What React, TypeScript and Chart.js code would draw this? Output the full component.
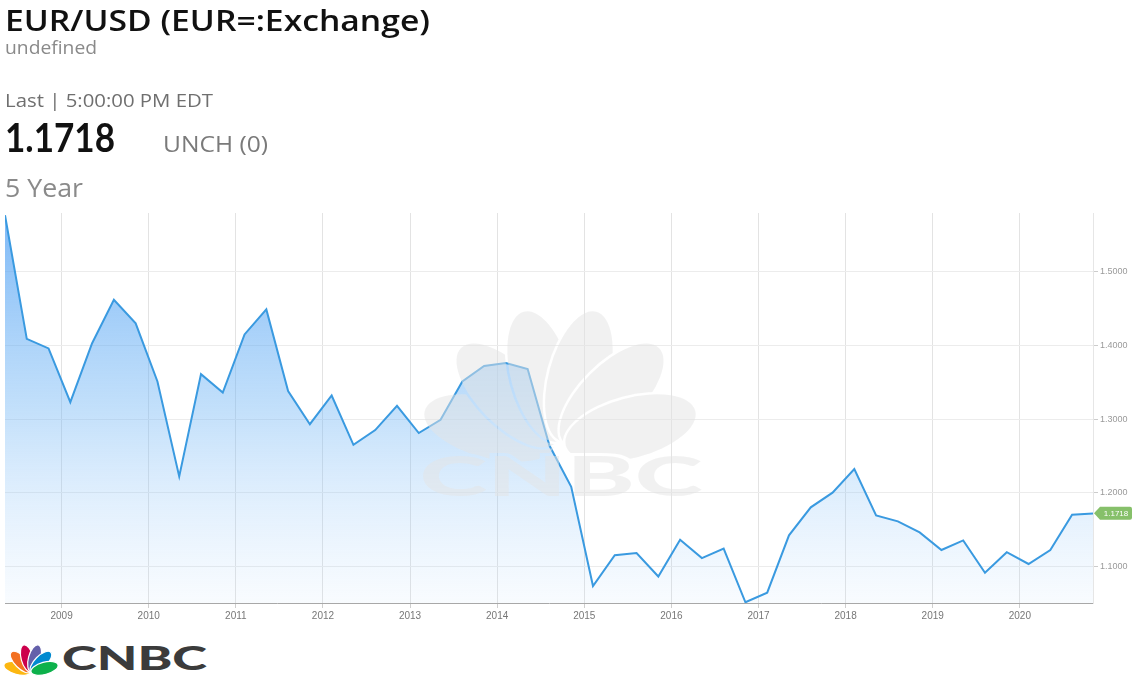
import React, { useEffect, useLayoutEffect, useRef } from 'react';
import { Chart, registerables } from 'chart.js';

Chart.register(...registerables);

// ---- data ----
const dates: number[] = [
  2008.35, 2008.6, 2008.85, 2009.1, 2009.35, 2009.6, 2009.85, 2010.1, 2010.35, 2010.6,
  2010.85, 2011.1, 2011.35, 2011.6, 2011.85, 2012.1, 2012.35, 2012.6, 2012.85, 2013.1,
  2013.35, 2013.6, 2013.85, 2014.1, 2014.35, 2014.6, 2014.85, 2015.1, 2015.35, 2015.6,
  2015.85, 2016.1, 2016.35, 2016.6, 2016.85, 2017.1, 2017.35, 2017.6, 2017.85, 2018.1,
  2018.35, 2018.6, 2018.85, 2019.1, 2019.35, 2019.6, 2019.85, 2020.1, 2020.35, 2020.6,
  2020.84,
];
const rates: number[] = [
  1.577, 1.409, 1.396, 1.323, 1.403, 1.462, 1.430, 1.351, 1.222, 1.361,
  1.336, 1.415, 1.449, 1.338, 1.293, 1.332, 1.265, 1.285, 1.318, 1.281,
  1.299, 1.351, 1.372, 1.376, 1.368, 1.264, 1.208, 1.073, 1.115, 1.118,
  1.086, 1.136, 1.111, 1.124, 1.051, 1.064, 1.142, 1.180, 1.200, 1.232,
  1.169, 1.161, 1.146, 1.122, 1.135, 1.091, 1.119, 1.103, 1.122, 1.170,
  1.1718,
];
const yearTicks: number[] = [2009, 2010, 2011, 2012, 2013, 2014, 2015, 2016, 2017, 2018, 2019, 2020];
const rateTicks: number[] = [1.1, 1.2, 1.3, 1.4, 1.5];
const lastValue = 1.1718;
const lastLabel = '1.1718';

const feathers = [
  { angle: -75, color: '#fcb711' },
  { angle: -45, color: '#f37021' },
  { angle: -15, color: '#cc004c' },
  { angle: 15, color: '#6460aa' },
  { angle: 45, color: '#0089d0' },
  { angle: 75, color: '#0db14b' },
];

const watermarkPlugin = {
  id: 'watermark',
  afterDatasetsDraw(chart: any) {
    const { ctx, width, height } = chart;
    const off = document.createElement('canvas');
    off.width = width;
    off.height = height;
    const o = off.getContext('2d')!;
    const bx = 560, by = 447, r = 73, rx = 30, ry = 67;
    const gray = '#e4e4e4';
    feathers.forEach((f) => {
      const a = (f.angle * Math.PI) / 180;
      const cx = bx + r * Math.sin(a);
      const cy = by - r * Math.cos(a);
      o.save();
      o.globalCompositeOperation = 'destination-out';
      o.beginPath();
      o.ellipse(cx, cy, rx + 2.5, ry + 2.5, a, 0, Math.PI * 2);
      o.fill();
      o.restore();
      o.fillStyle = gray;
      o.beginPath();
      o.ellipse(cx, cy, rx, ry, a, 0, Math.PI * 2);
      o.fill();
    });
    const font = '900 56px Lato, "DejaVu Sans", sans-serif';
    o.font = font;
    const w = o.measureText('CNBC').width;
    const sx = 283 / w;
    o.save();
    o.translate(561, 496);
    o.scale(sx, 1);
    o.textAlign = 'center';
    o.textBaseline = 'alphabetic';
    o.globalCompositeOperation = 'destination-out';
    o.lineWidth = 6;
    o.strokeText('CNBC', 0, 0);
    o.globalCompositeOperation = 'source-over';
    o.fillStyle = gray;
    o.fillText('CNBC', 0, 0);
    o.restore();
    ctx.save();
    ctx.globalAlpha = 0.5;
    ctx.drawImage(off, 0, 0);
    ctx.restore();
  },
};

const badgePlugin = {
  id: 'badge',
  afterDraw(chart: any) {
    const { ctx, chartArea, scales } = chart;
    const y = scales.y.getPixelForValue(lastValue);
    const x = chartArea.right + 1;
    const h = 13;
    ctx.save();
    ctx.fillStyle = '#86c06a';
    ctx.beginPath();
    ctx.moveTo(x, y);
    ctx.lineTo(x + 6, y - h / 2);
    ctx.lineTo(x + 36, y - h / 2);
    ctx.quadraticCurveTo(x + 38, y - h / 2, x + 38, y - h / 2 + 2);
    ctx.lineTo(x + 38, y + h / 2 - 2);
    ctx.quadraticCurveTo(x + 38, y + h / 2, x + 36, y + h / 2);
    ctx.lineTo(x + 6, y + h / 2);
    ctx.closePath();
    ctx.fill();
    ctx.fillStyle = '#ffffff';
    ctx.font = '8px "Liberation Sans", Arial, sans-serif';
    ctx.textAlign = 'center';
    ctx.textBaseline = 'middle';
    ctx.fillText(lastLabel, x + 22, y + 0.5);
    ctx.restore();
  },
};

function FitText(props: { text: string; left: number; top: number; width: number; style: React.CSSProperties }) {
  const ref = useRef<HTMLSpanElement | null>(null);
  useLayoutEffect(() => {
    const el = ref.current;
    if (!el) return;
    el.style.transform = 'none';
    const w = el.getBoundingClientRect().width;
    if (w > 0) el.style.transform = `scaleX(${props.width / w})`;
  }, [props.text, props.width]);
  return (
    <span
      ref={ref}
      style={{
        position: 'absolute',
        left: props.left,
        top: props.top,
        whiteSpace: 'nowrap',
        display: 'inline-block',
        transformOrigin: '0 0',
        ...props.style,
      }}
    >
      {props.text}
    </span>
  );
}

function Logo() {
  const bx = 31, by = 672, r = 14, rx = 6.2, ry = 14;
  return (
    <svg width={220} height={47} viewBox="0 630 220 47" style={{ position: 'absolute', left: 0, top: 630 }}>
      {feathers.map((f, i) => {
        const a = (f.angle * Math.PI) / 180;
        const cx = bx + r * Math.sin(a);
        const cy = by - r * Math.cos(a);
        return (
          <ellipse
            key={i}
            cx={cx}
            cy={cy}
            rx={rx}
            ry={ry}
            fill={f.color}
            stroke="#ffffff"
            strokeWidth={1.2}
            transform={`rotate(${f.angle} ${cx} ${cy})`}
          />
        );
      })}
      <text
        x={62}
        y={670}
        fontFamily="Lato, 'DejaVu Sans', sans-serif"
        fontWeight={900}
        fontSize={33}
        fill="#3b3b3b"
        textLength={145}
        lengthAdjust="spacingAndGlyphs"
      >
        CNBC
      </text>
    </svg>
  );
}

export default function App() {
  const canvasRef = useRef<HTMLCanvasElement | null>(null);

  useEffect(() => {
    const canvas = canvasRef.current!;
    const chart = new Chart(canvas, {
      type: 'line',
      data: {
        datasets: [
          {
            data: dates.map((d, i) => ({ x: d, y: rates[i] })),
            borderColor: '#3a9ae0',
            borderWidth: 2,
            pointRadius: 0,
            tension: 0,
            fill: 'start',
            backgroundColor: (c: any) => {
              const { chart: ch } = c;
              const area = ch.chartArea;
              if (!area) return 'rgba(120,180,245,0.5)';
              const g = ch.ctx.createLinearGradient(0, area.top, 0, area.bottom);
              g.addColorStop(0, 'rgba(75,157,243,0.72)');
              g.addColorStop(0.5, 'rgba(110,180,245,0.42)');
              g.addColorStop(1, 'rgba(170,210,250,0.08)');
              return g;
            },
          },
        ],
      },
      options: {
        responsive: false,
        animation: false,
        layout: { padding: { top: 213, left: 5, right: 0, bottom: 0 } },
        plugins: { legend: { display: false }, tooltip: { enabled: false } },
        scales: {
          x: {
            type: 'linear',
            min: dates[0],
            max: dates[dates.length - 1],
            afterBuildTicks: (axis: any) => {
              axis.ticks = yearTicks.map((v) => ({ value: v }));
            },
            afterFit: (axis: any) => {
              axis.height = 27;
            },
            grid: { color: '#e3e3e3', lineWidth: 1, tickLength: 5, tickColor: '#cfcfcf' },
            border: { display: true, color: '#a8a8a8', width: 1 },
            ticks: {
              autoSkip: false,
              maxRotation: 0,
              padding: 2,
              color: '#777777',
              font: { size: 10, family: '"Liberation Sans", Arial, sans-serif' },
              callback: (v: any) => String(v),
            },
          },
          y: {
            type: 'linear',
            position: 'right',
            min: 1.05,
            max: 1.58,
            afterBuildTicks: (axis: any) => {
              axis.ticks = rateTicks.map((v) => ({ value: v }));
            },
            afterFit: (axis: any) => {
              axis.width = 39;
            },
            grid: { color: '#ececec', lineWidth: 1, tickLength: 5, tickColor: '#cccccc' },
            border: { display: true, color: '#e6e6e6', width: 1 },
            ticks: {
              padding: 2,
              color: '#9a9a9a',
              font: { size: 9, family: '"Liberation Sans", Arial, sans-serif' },
              callback: (v: any) => Number(v).toFixed(4),
            },
          },
        },
      },
      plugins: [watermarkPlugin, badgePlugin],
    });
    return () => chart.destroy();
  }, []);

  const os = '"Open Sans", Lato, sans-serif';
  const lato = 'Lato, "Open Sans", sans-serif';
  return (
    <div style={{ position: 'absolute', left: 0, top: 0, width: 1132, height: 677, background: '#ffffff', overflow: 'hidden' }}>
      <canvas ref={canvasRef} width={1132} height={630} style={{ position: 'absolute', left: 0, top: 0, width: 1132, height: 630 }} />
      <FitText
        text="EUR/USD (EUR=:Exchange)"
        left={5}
        top={0}
        width={425}
        style={{ fontFamily: os, fontSize: 29, fontWeight: 600, color: '#111', lineHeight: '40px' }}
      />
      <FitText
        text="undefined"
        left={5}
        top={35}
        width={92}
        style={{ fontFamily: os, fontSize: 18, color: '#8a8a8a', lineHeight: '24px' }}
      />
      <FitText
        text="Last | 5:00:00 PM EDT"
        left={5}
        top={88}
        width={208}
        style={{ fontFamily: os, fontSize: 18, color: '#6f6f6f', lineHeight: '24px' }}
      />
      <FitText
        text="1.1718"
        left={5}
        top={114}
        width={110}
        style={{ fontFamily: lato, fontSize: 40, fontWeight: 700, color: '#111', lineHeight: '46px' }}
      />
      <FitText
        text="UNCH (0)"
        left={163}
        top={128}
        width={105}
        style={{ fontFamily: os, fontSize: 22, color: '#7a7a7a', lineHeight: '30px' }}
      />
      <FitText
        text="5 Year"
        left={5}
        top={170}
        width={78}
        style={{ fontFamily: os, fontSize: 25, color: '#8a8a8a', lineHeight: '34px' }}
      />
      <Logo />
    </div>
  );
}
